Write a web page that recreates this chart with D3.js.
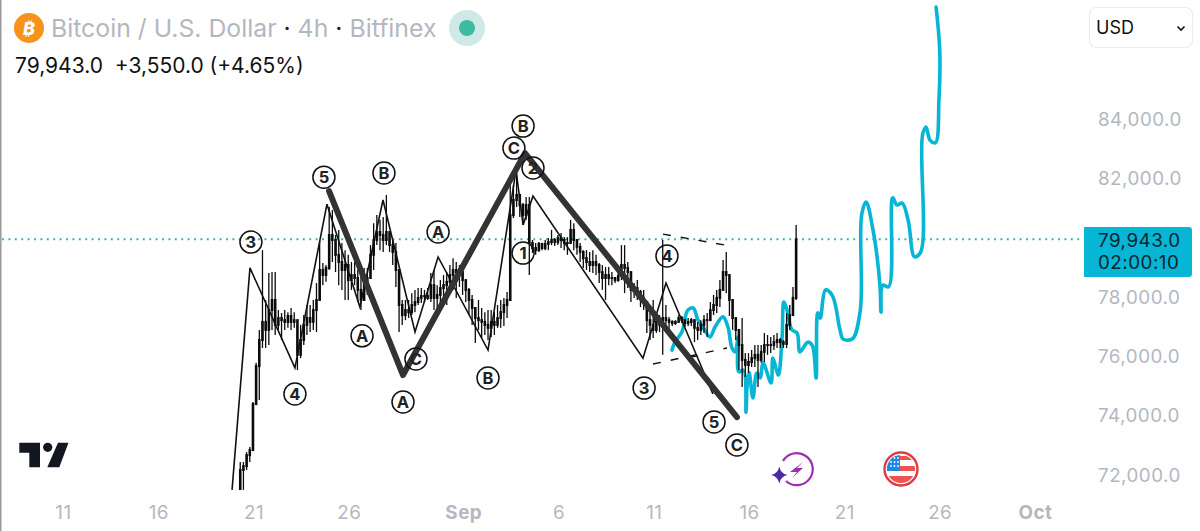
<!DOCTYPE html>
<html><head><meta charset="utf-8">
<script src="https://cdn.jsdelivr.net/npm/d3@7"></script>
<style>
html,body{margin:0;padding:0;background:#fff;overflow:hidden}
svg{display:block}
text{font-family:Inter,Roboto,"Liberation Sans",sans-serif}
</style></head><body>
<svg id="c" width="1200" height="531"></svg>
<script>
// Candles: 4h bars, first bar offset in days since 11 Aug, bar length in days
const firstBarDay = 9.3;
const barStep = 1/6;
const highs = [72440,72440,72770,72940,74460,75780,76890,79580,77900,78810,78840,78840,77560,77460,77560,77490,77630,77490,77060,77060,77390,77730,77730,77900,78470,79890,79150,79080,81030,80930,80090,80260,79820,79580,79420,79180,79180,78910,78810,78980,78980,79750,80490,80760,80600,80700,81440,79990,79920,79820,78340,77900,77900,77900,78130,78240,78300,78300,78240,78300,78810,78910,78400,78570,78740,78840,79080,79310,79180,79080,78910,78470,78300,78070,77630,77900,77630,77490,77560,77560,77490,77730,77900,77970,78170,81770,81770,82180,81370,81170,81370,81370,79920,79820,79850,79820,79920,79990,80260,79990,80090,80160,80020,80020,80600,80490,79920,79820,79580,79580,79520,79580,79420,79150,79080,79010,79010,78840,78640,78840,79750,79750,79180,78570,78470,78570,78240,78240,77660,77460,77900,77390,77390,79920,77730,77330,77220,77220,77390,77360,77220,77290,77290,77220,77160,77220,77390,77460,77830,78070,78240,78570,79250,79520,78170,77630,77290,76890,77290,76110,76110,76210,76380,76380,76380,76790,76720,76650,76720,76790,76620,76550,77460,77730,78340,80430];
const lows = [71500,71500,72170,72440,72940,74460,74530,76280,76280,76380,76890,76720,76890,76550,76890,76960,76890,76960,75540,75940,76380,76720,76820,76890,76820,77900,78400,78510,78910,79180,78840,78400,78240,77900,77900,78240,78400,77830,77560,77900,78070,78840,78910,79750,79580,79520,79750,79520,79080,78340,76820,77060,77220,77290,77390,77490,77730,77800,77830,77900,77830,77560,77390,77560,77900,77730,78170,78240,77970,78340,78070,77830,77390,77060,76450,76890,76620,76720,76550,76650,76720,76960,76960,77020,77290,77900,80660,81030,80700,80430,80600,78740,79480,79420,79520,79580,79580,79580,79750,79720,79750,79650,79580,79420,79820,79580,79420,79180,78980,78910,78840,78810,78740,78470,78240,77900,78400,78400,78470,78510,78570,78130,78300,77830,77970,77900,77660,77560,76790,76550,76620,76790,76820,76050,76890,76890,77020,77060,77330,77120,76990,77020,77020,76480,76550,76720,76790,76650,77220,77390,77460,77660,78340,78130,77360,76890,76550,75540,74970,75300,75440,75640,75640,74970,75780,75810,76050,76110,76210,76280,76280,76280,76280,76890,77560,77900];
const closes = [72170,72300,72670,72840,74390,75670,76550,77160,76890,77560,77900,77060,77290,77220,77160,77360,77160,77220,76050,76550,77060,77290,77160,77560,77900,78910,78740,78980,80090,79920,79420,79180,78910,79080,78570,78740,78640,78240,77900,78510,78640,79420,79920,80190,80090,79920,80190,79750,79520,78910,77730,77390,77560,77490,77730,77830,77970,78030,78030,77970,78400,77970,78070,78300,78400,78510,78740,78910,78840,78840,78570,78240,77900,77630,77290,77220,77160,77060,76960,77160,77060,77290,77490,77730,77900,80760,81270,81440,81100,80760,81100,79820,79650,79580,79790,79650,79790,79850,79920,79850,79990,79920,79820,79820,80260,79920,79690,79520,79310,79180,79080,79180,79080,78840,78640,78740,78640,78640,78570,78710,79080,78980,78840,78240,78300,78170,77970,77830,77220,77060,76890,77160,77060,77290,77220,77160,77120,77160,77290,77220,77120,77160,77220,76960,76890,77060,77220,77220,77560,77730,77970,78240,78840,78740,77900,77290,76890,76380,75880,75710,75810,75940,76050,75880,76150,76380,76380,76380,76480,76550,76480,76420,77060,77390,77970,79943];

// Wave counts: day offsets since 11 Aug and prices
const waveDays = [8.87,9.81,12.17,13.85,15.58,16.79,18.47,19.68,22.30,23.77,24.14,24.66,30.43,31.64,34.10];
const wavePrices = [71500,78980,75610,81130,77660,81270,76820,79350,76210,82280,80430,81400,75940,78470,74730];
const majorDays = [13.96,17.84,24.24,35.36];
const majorPrices = [81570,75370,82850,73950];
const channelTopDays = [31.48,34.73];
const channelTopPrices = [80120,79750];
const channelLowDays = [30.96,34.84];
const channelLowPrices = [75740,76280];
const tickMarkDays = [32.90,33.32];
const tickMarkPrices = [75980,76010];

// Forecast path
const forecastDays = [31.95,32.11,32.47,32.79,33.06,33.32,33.58,33.95,34.21,34.63,34.89,35.10,35.26,35.42,35.47,35.68,35.84,35.89,36.00,36.20,36.41,36.57,36.73,37.15,37.25,37.52,37.73,37.83,37.99,38.25,38.51,38.67,39.09,39.30,39.51,39.61,39.72,40.03,40.35,40.77,40.93,41.40,41.82,41.92,42.13,42.50,42.87,42.92,43.03,43.29,43.55,43.76,44.02,44.34,44.70,44.97,45.12,45.28,45.49,45.75,45.96,46.00,45.81];
const forecastPrices = [76210,76480,76820,77560,77630,77220,76990,76650,76990,77330,76990,76280,76150,76650,75470,75540,74120,74970,75440,74600,75440,75270,75780,75100,75940,75370,76650,77830,77560,76890,76790,76150,76480,76380,75270,77460,77290,78240,78070,76890,76580,76580,77490,80830,81200,80260,78340,77490,78400,78340,81340,81100,81170,80600,79350,79480,83530,83730,83290,83190,84640,86320,87770];

// Wave labels
const labelText = ["3","5","B","A","A","C","A","4","B","B","C","2","1","4","3","5","C"];
const labelDays = [9.86,13.69,16.84,19.68,15.69,18.52,17.84,12.17,22.30,24.14,23.66,24.66,24.14,31.69,30.49,34.16,35.36];
const labelPrices = [79850,82040,82180,80190,76690,75910,74460,74730,75270,83760,83020,82350,79480,79380,74930,73790,73010];

// Axes
const yTicks = [72000,74000,76000,78000,82000,84000];
const xTickDays = [0,5,10,15,21,26,31,36,41,46,51];
const xTickLabels = ["11","16","21","26","Sep","6","11","16","21","26","Oct"];
const lastPrice = 79943;

const x = d3.scaleLinear().domain([0,51]).range([63,1035]);
const y = d3.scaleLinear().domain([72000,84000]).range([475,119]);
const svg = d3.select("#c");
const TEAL = "#06b6d4";

svg.append("defs").append("clipPath").attr("id","plot").append("rect")
  .attr("x",0).attr("y",0).attr("width",1083).attr("height",490);

// left border
svg.append("rect").attr("x",0).attr("y",0).attr("width",1.5).attr("height",531).attr("fill","#9a9a9a");

// last price dotted line
svg.append("line").attr("x1",2).attr("x2",1083).attr("y1",y(lastPrice)).attr("y2",y(lastPrice))
  .attr("stroke","#35b3c2").attr("stroke-width",2).attr("stroke-dasharray","2 4.4");

const plot = svg.append("g").attr("clip-path","url(#plot)");
const zip = (a,b)=>a.map((d,i)=>[d,b[i]]);
const line = d3.line().x(d=>x(d[0])).y(d=>y(d[1]));

// forecast
plot.append("path").attr("d",line.curve(d3.curveCatmullRom.alpha(0.6))(zip(forecastDays,forecastPrices)))
  .attr("fill","none").attr("stroke",TEAL).attr("stroke-width",3.6).attr("stroke-linecap","round").attr("stroke-linejoin","round");
line.curve(d3.curveLinear);

// candles
const bars = plot.append("g").attr("stroke","#0b0b0b");
closes.forEach((c,i)=>{
  const d = firstBarDay + i*barStep;
  const o = i ? closes[i-1] : lows[0];
  bars.append("line").attr("x1",x(d)).attr("x2",x(d)).attr("y1",y(highs[i])).attr("y2",y(lows[i])).attr("stroke-width",1.3);
  bars.append("line").attr("x1",x(d)).attr("x2",x(d)).attr("y1",y(Math.max(o,c))-1).attr("y2",y(Math.min(o,c))+1).attr("stroke-width",2.6);
});

// thin wave
plot.append("path").attr("d",line(zip(waveDays,wavePrices))).attr("fill","none").attr("stroke","#111").attr("stroke-width",1.6);
plot.append("path").attr("d",line(zip(tickMarkDays,tickMarkPrices))).attr("fill","none").attr("stroke","#111").attr("stroke-width",1.2);
// channel
[[channelTopDays,channelTopPrices],[channelLowDays,channelLowPrices]].forEach(([a,b])=>{
  plot.append("path").attr("d",line(zip(a,b))).attr("fill","none").attr("stroke","#111").attr("stroke-width",1.4).attr("stroke-dasharray","8 10");
});
// thick wave
plot.append("path").attr("d",line(zip(majorDays,majorPrices))).attr("fill","none").attr("stroke","#333").attr("stroke-width",6).attr("stroke-linecap","round").attr("stroke-linejoin","round");

// circled labels
labelText.forEach((t,i)=>{
  const g = svg.append("g").attr("transform",`translate(${x(labelDays[i])},${y(labelPrices[i])})`);
  g.append("circle").attr("r",11).attr("fill","none").attr("stroke","#111").attr("stroke-width",1.5);
  g.append("text").text(t).attr("text-anchor","middle").attr("dy","0.36em").attr("font-size",16.5).attr("font-weight",700).attr("fill","#222");
});

// y axis
const yAxis = d3.axisRight(y).tickValues(yTicks).tickSize(0).tickPadding(0).tickFormat(d=>d3.format(",.1f")(d));
const ya = svg.append("g").attr("transform","translate(1098,0)").call(yAxis);
ya.select(".domain").remove();
ya.selectAll("text").attr("fill","#b4b7bf").attr("font-size",18.8).attr("letter-spacing",0.5);

// price label
svg.append("path").attr("d","M1084 227H1189a3 3 0 0 1 3 3V274a3 3 0 0 1 -3 3H1084Z").attr("fill","#06b6d4");
svg.append("text").attr("x",1098).attr("y",247).text(d3.format(",.1f")(lastPrice)).attr("fill","#0b2530").attr("font-size",18.8).attr("letter-spacing",0.5);
svg.append("text").attr("x",1098).attr("y",269).text("02:00:10").attr("fill","#0b2530").attr("font-size",18.8).attr("letter-spacing",0.5);

// x axis
const xAxis = d3.axisBottom(x).tickValues(xTickDays).tickSize(0).tickPadding(0).tickFormat((d,i)=>xTickLabels[i]);
const xa = svg.append("g").attr("transform","translate(0,506)").call(xAxis);
xa.select(".domain").remove();
xa.selectAll("text").attr("fill","#b4b7bf").attr("font-size",18.8).attr("letter-spacing",0.5)
  .attr("font-weight",(d,i)=>/[A-Z]/.test(xTickLabels[i])?700:400);

// header
const head = svg.append("g");
head.append("circle").attr("cx",29).attr("cy",28).attr("r",15).attr("fill","#f7931a");
head.append("text").attr("x",29).attr("y",34.5).attr("text-anchor","middle").attr("font-size",18).attr("font-weight",800).attr("font-style","italic").attr("fill","#fff").text("₿");
const title = head.append("text").attr("x",51).attr("y",37).attr("font-size",24.8).attr("fill","#b4b7bf");
title.append("tspan").text("Bitcoin / U.S. Dollar ");
title.append("tspan").attr("fill","#222").text("·");
title.append("tspan").text(" 4h ");
title.append("tspan").attr("fill","#222").text("·");
title.append("tspan").text(" Bitfinex");
head.append("circle").attr("cx",467).attr("cy",28).attr("r",18).attr("fill","#cfeae6");
head.append("circle").attr("cx",467).attr("cy",28).attr("r",8).attr("fill","#3dbb9f");
head.append("text").attr("x",15).attr("y",73).attr("font-size",21).attr("fill","#111").attr("xml:space","preserve").text("79,943.0  +3,550.0 (+4.65%)");

// currency box
svg.append("rect").attr("x",1089.5).attr("y",7.5).attr("width",103).attr("height",40).attr("rx",7).attr("fill","#fff").attr("stroke","#ececec").attr("stroke-width",1.2);
svg.append("text").attr("x",1096).attr("y",34).attr("font-size",18).attr("fill","#111").text("USD");
svg.append("path").attr("d","M1177.5 26.5l3.5 3.5 3.5-3.5").attr("fill","none").attr("stroke","#111").attr("stroke-width",1.6);

// TV logo
svg.append("path").attr("d","M19.3 442.7H40V467.3H29.3V452.7H19.3ZM58 442.7H68.5L59.3 467.3H47.3Z").attr("fill","#131722");
svg.append("circle").attr("cx",47.7).attr("cy",447.3).attr("r",4.6).attr("fill","#131722");

// event icons
const ev = svg.append("g");
ev.append("path").attr("d","M783 461A16 16 0 1 1 786 481").attr("fill","none").attr("stroke","#a02bb5").attr("stroke-width",2.2);
ev.append("path").attr("d","M779.3 466.5Q780.5 473.5 787.5 475Q780.5 476.5 779.3 483.5Q778 476.5 771 475Q778 473.5 779.3 466.5Z").attr("fill","#4b2aa8");
ev.append("path").attr("d","M803 462L790 472H797L792 478L803 468H797Z").attr("fill","#a02bb5");
const fl = svg.append("g");
fl.append("clipPath").attr("id","flag").append("circle").attr("cx",901).attr("cy",469).attr("r",14);
const inner = fl.append("g").attr("clip-path","url(#flag)");
inner.append("rect").attr("x",885).attr("y",453).attr("width",32).attr("height",32).attr("fill","#fff");
inner.append("rect").attr("x",885).attr("y",456).attr("width",32).attr("height",4).attr("fill","#ef5350");
inner.append("rect").attr("x",885).attr("y",466).attr("width",32).attr("height",5).attr("fill","#ef5350");
inner.append("rect").attr("x",885).attr("y",476).attr("width",32).attr("height",9).attr("fill","#ef5350");
inner.append("rect").attr("x",885).attr("y",453).attr("width",15).attr("height",18).attr("fill","#1e88e5");
d3.range(0,3).forEach(r=>d3.range(0,3).forEach(c=>inner.append("circle").attr("cx",891+c*3.5).attr("cy",458+r*4).attr("r",0.9).attr("fill","#fff")));
fl.append("circle").attr("cx",901).attr("cy",469).attr("r",16.5).attr("fill","none").attr("stroke","#e03a44").attr("stroke-width",2.4);
</script>
</body></html>
